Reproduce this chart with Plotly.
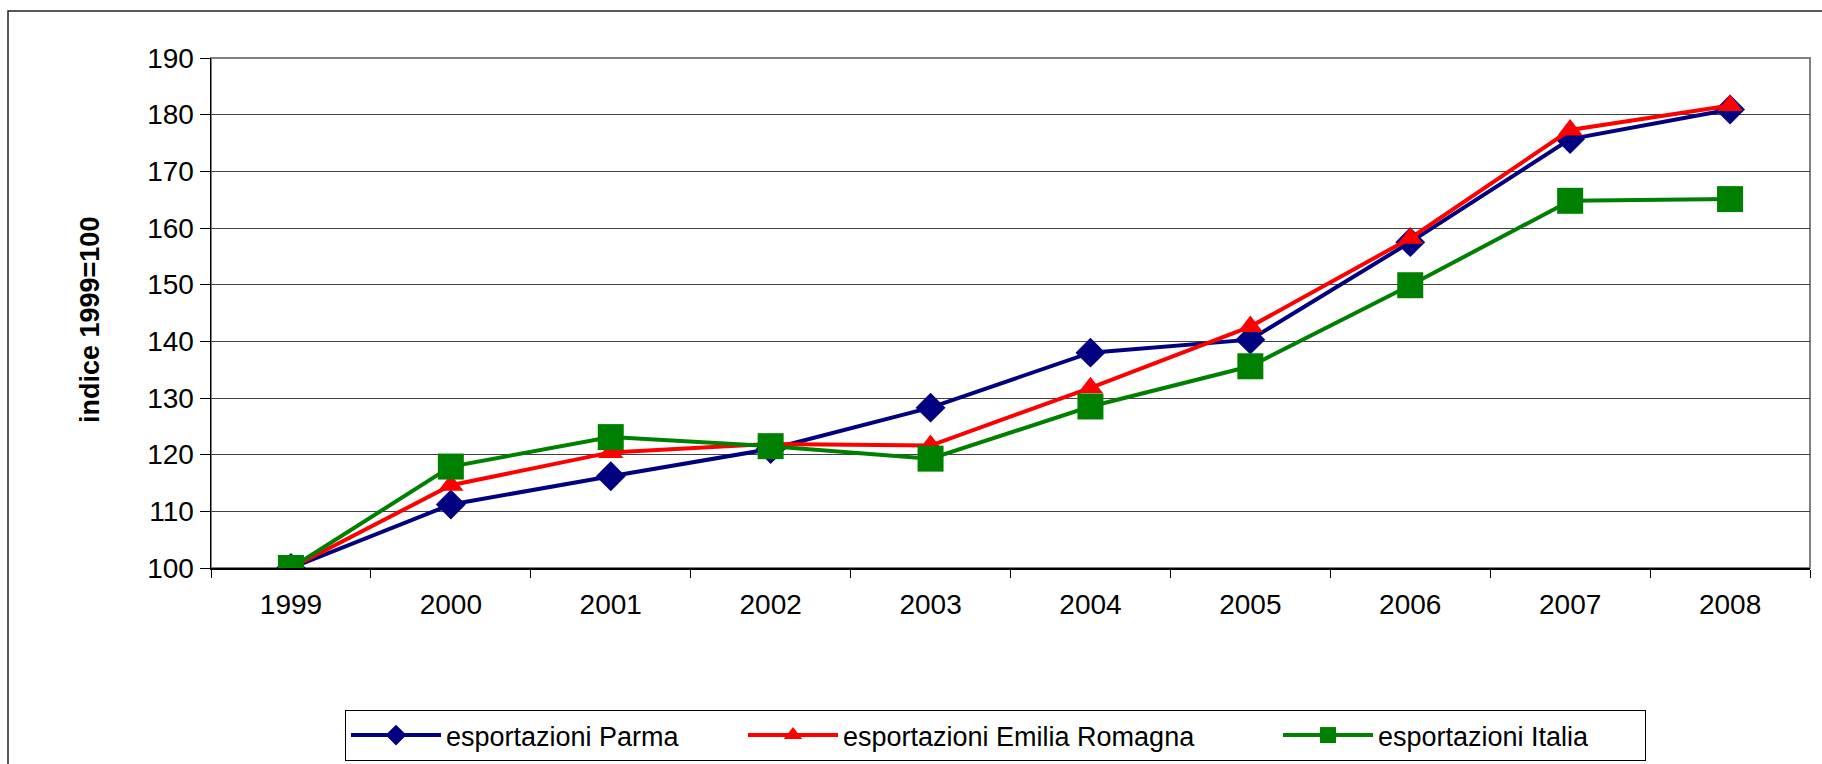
import plotly.graph_objects as go

years = ["1999", "2000", "2001", "2002", "2003", "2004", "2005", "2006", "2007", "2008"]
parma = [100, 111.2, 116.2, 121.0, 128.3, 138.0, 140.3, 157.5, 175.7, 180.9]
emilia = [100, 114.6, 120.4, 121.9, 121.6, 131.8, 142.6, 158.2, 177.3, 181.6]
italia = [100, 117.9, 123.1, 121.5, 119.3, 128.5, 135.6, 149.9, 164.8, 165.1]
series_names = ["esportazioni Parma", "esportazioni Emilia Romagna", "esportazioni Italia"]
y_ticks = [100, 110, 120, 130, 140, 150, 160, 170, 180, 190]

W, H = 1822, 764
L, R, T, B = 211, 12, 58, 196
pw, ph = W - L - R, H - T - B


def px_x(p):
    return (p - L) / pw


def px_y(p):
    return (H - B - p) / ph


FONT = "Liberation Sans, Arial, sans-serif"

fig = go.Figure()
fig.add_trace(go.Scatter(
    x=years, y=parma, name=series_names[0], mode="lines+markers",
    line=dict(color="#000080", width=4),
    marker=dict(symbol="diamond", size=23, color="#000080"),
    legendwidth=292,
))
fig.add_trace(go.Scatter(
    x=years, y=emilia, name=series_names[1], mode="lines+markers",
    line=dict(color="#FF0000", width=4),
    marker=dict(symbol="triangle-up", size=22, color="#FF0000"),
    legendwidth=430,
))
fig.add_trace(go.Scatter(
    x=years, y=italia, name=series_names[2], mode="lines+markers",
    line=dict(color="#008000", width=4),
    marker=dict(symbol="square", size=26, color="#008000"),
    legendwidth=262,
))

fig.update_layout(
    width=W, height=H,
    margin=dict(l=L, r=R, t=T, b=B, autoexpand=False),
    paper_bgcolor="white", plot_bgcolor="white",
    font=dict(family=FONT, color="black"),
    showlegend=True,
    legend=dict(
        orientation="h", x=px_x(345), y=px_y(710), xanchor="left", yanchor="top",
        bordercolor="black", borderwidth=1, bgcolor="white",
        font=dict(size=27, family=FONT, color="black"),
        itemwidth=90, itemsizing="trace", traceorder="normal",
    ),
    xaxis=dict(
        type="category", range=[-0.5, 9.5], tickson="boundaries",
        ticks="outside", ticklen=8, tickcolor="black", tickwidth=1,
        showline=True, linecolor="black", linewidth=1.5,
        showgrid=False, zeroline=False,
        tickfont=dict(size=28, family=FONT, color="black"),
        ticklabelstandoff=11,
        fixedrange=True,
    ),
    yaxis=dict(
        range=[100, 190], tickvals=y_ticks,
        ticks="outside", ticklen=10, tickcolor="black", tickwidth=1,
        showline=True, linecolor="black", linewidth=1.5,
        showgrid=True, gridcolor="#404040", gridwidth=1,
        zeroline=False,
        tickfont=dict(size=28, family=FONT, color="black"),
        fixedrange=True,
    ),
    shapes=[
        dict(type="rect", xref="paper", yref="paper", x0=0, x1=1, y0=0, y1=1,
             line=dict(color="#808080", width=2), layer="below"),
        dict(type="rect", xref="paper", yref="paper",
             x0=px_x(8), x1=px_x(1840), y0=px_y(790), y1=px_y(11),
             line=dict(color="#222222", width=1.5), layer="below"),
    ],
    annotations=[
        dict(text="<b>indice 1999=100</b>", xref="paper", yref="paper",
             x=px_x(90), y=px_y(320), xanchor="center", yanchor="middle",
             textangle=-90, showarrow=False,
             font=dict(size=27, family=FONT, color="black")),
    ],
)

fig.write_html(
    "out.html",
    config={"displayModeBar": False, "staticPlot": True},
    post_script="document.body.style.margin='0';document.body.style.overflow='hidden';",
)
